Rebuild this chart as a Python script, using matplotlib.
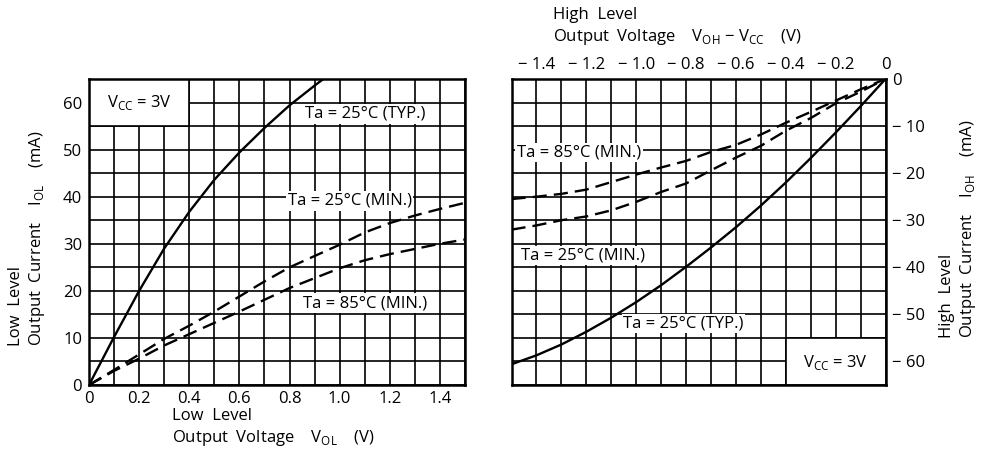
import matplotlib
matplotlib.use("Agg")
import matplotlib.pyplot as plt
from matplotlib.patches import Rectangle
from matplotlib.ticker import MultipleLocator, FixedLocator

plt.rcParams["font.family"] = ["Open Sans", "DejaVu Sans"]
plt.rcParams["font.size"] = 12
plt.rcParams["mathtext.fontset"] = "custom"
plt.rcParams["mathtext.rm"] = "Open Sans"

# ---- left chart: low level output (VOL vs IOL) ----
vol = [0, 0.05, 0.1, 0.2, 0.3, 0.4, 0.5, 0.6, 0.7, 0.8, 0.9, 1.0, 1.1, 1.2, 1.3, 1.4, 1.5]
iol_25_min = [0, 1.6, 3.2, 6.5, 9.8, 12.6, 15.6, 18.8, 22.0, 25.0, 27.4, 29.8, 32.4, 34.4, 36.0, 37.4, 38.7]
iol_85_min = [0, 1.5, 3.0, 5.6, 8.4, 10.8, 13.2, 15.6, 18.1, 20.6, 22.7, 24.8, 26.5, 27.8, 28.9, 30.0, 30.9]
vol_typ = [0, 0.1, 0.2, 0.3, 0.4, 0.5, 0.6, 0.7, 0.8, 0.9, 0.935]
iol_typ = [0, 10.2, 20.0, 29.0, 36.8, 43.6, 49.4, 54.6, 59.4, 63.6, 65.0]

# ---- right chart: high level output (VOH-VCC vs IOH) ----
voh = [-1.5, -1.4, -1.3, -1.2, -1.1, -1.0, -0.9, -0.8, -0.7, -0.6, -0.5, -0.4, -0.3, -0.2, -0.1, 0]
ioh_typ = [-60.6, -58.7, -56.4, -53.7, -50.7, -47.4, -43.8, -39.9, -35.8, -31.5, -26.9, -22.0, -16.8, -11.4, -5.8, 0]
ioh_85_min = [-25.5, -25.0, -24.4, -23.5, -21.9, -20.3, -18.8, -17.4, -15.5, -14.0, -11.8, -9.3, -7.0, -4.6, -2.2, 0]
ioh_25_min = [-32.0, -31.1, -30.0, -29.2, -27.9, -26.1, -24.0, -22.2, -19.4, -16.7, -14.2, -11.0, -8.3, -5.2, -2.7, 0]

W, H = 983, 459
fig = plt.figure(figsize=(W / 100, H / 100), dpi=100)


def px_axes(x0, y0, x1, y1):
    return fig.add_axes([x0 / W, 1 - y1 / H, (x1 - x0) / W, (y1 - y0) / H])


def px_text(x, y, s, **kw):
    fig.text(x / W, 1 - y / H, s, **kw)


def minus(v, fmt):
    s = fmt.format(abs(v))
    return s if v == 0 else "\u2212 " + s


def style_grid(ax):
    ax.xaxis.set_minor_locator(MultipleLocator(0.1))
    ax.yaxis.set_minor_locator(MultipleLocator(5))
    ax.grid(which="both", color="black", linewidth=1.2)
    ax.set_axisbelow(True)
    ax.tick_params(which="both", length=0, labelsize=12)
    for sp in ax.spines.values():
        sp.set_linewidth(1.8)


label_box = dict(boxstyle="square,pad=0.1", facecolor="white", edgecolor="none")
solid_kw = dict(color="black", linewidth=1.7, zorder=3)
dash_kw = dict(color="black", linewidth=1.7, linestyle=(0, (6, 3)), zorder=3)

# left
ax1 = px_axes(89, 79, 465, 385)
ax1.set_xlim(0, 1.5)
ax1.set_ylim(0, 65)
ax1.xaxis.set_major_locator(FixedLocator([0, 0.2, 0.4, 0.6, 0.8, 1.0, 1.2, 1.4]))
ax1.set_xticklabels(["0", "0.2", "0.4", "0.6", "0.8", "1.0", "1.2", "1.4"])
ax1.yaxis.set_major_locator(FixedLocator([0, 10, 20, 30, 40, 50, 60]))
style_grid(ax1)
ax1.tick_params(axis="x", pad=4)
ax1.tick_params(axis="y", pad=5)

ax1.plot(vol_typ, iol_typ, **solid_kw)
ax1.plot(vol, iol_25_min, **dash_kw)
ax1.plot(vol, iol_85_min, **dash_kw)

ax1.add_patch(Rectangle((0, 55), 0.4, 10, facecolor="white", edgecolor="black",
                        linewidth=1.2, zorder=1))
ax1.text(0.2, 60, r"V$_{\mathregular{CC}}$ = 3V", ha="center", va="center", zorder=5)
ax1.text(1.1, 57.6, "Ta = 25°C (TYP.)", ha="center", va="center", bbox=label_box, zorder=5)
ax1.text(1.04, 39.1, "Ta = 25°C (MIN.)", ha="center", va="center", bbox=label_box, zorder=5)
ax1.text(1.1, 17.4, "Ta = 85°C (MIN.)", ha="center", va="center", bbox=label_box, zorder=5)

px_text(16, 346, "Low  Level", rotation=90, ha="center", va="bottom")
px_text(37, 346, "Output  Current    I$_{\\mathregular{OL}}$    (mA)",
        rotation=90, ha="center", va="bottom")
px_text(172, 416, "Low  Level", ha="left", va="center")
px_text(172, 438, "Output  Voltage    V$_{\\mathregular{OL}}$    (V)", ha="left", va="center")

# right
ax2 = px_axes(511.5, 79, 885.5, 385)
ax2.set_xlim(-1.5, 0)
ax2.set_ylim(-65, 0)
xt = [-1.4, -1.2, -1.0, -0.8, -0.6, -0.4, -0.2, 0]
ax2.xaxis.set_major_locator(FixedLocator(xt))
ax2.set_xticklabels([minus(v, "{:.1f}") if v else "0" for v in xt])
yt = [-60, -50, -40, -30, -20, -10, 0]
ax2.yaxis.set_major_locator(FixedLocator(yt))
ax2.set_yticklabels([minus(v, "{:.0f}") for v in yt])
ax2.xaxis.tick_top()
ax2.yaxis.tick_right()
style_grid(ax2)
ax2.tick_params(axis="x", pad=4)
ax2.tick_params(axis="y", pad=5)

ax2.plot(voh, ioh_typ, **solid_kw)
ax2.plot(voh, ioh_85_min, **dash_kw)
ax2.plot(voh, ioh_25_min, **dash_kw)

ax2.add_patch(Rectangle((-0.4, -65), 0.4, 10, facecolor="white", edgecolor="black",
                        linewidth=1.2, zorder=1))
ax2.text(-0.2, -60.3, r"V$_{\mathregular{CC}}$ = 3V", ha="center", va="center", zorder=5)
ax2.text(-1.23, -15.6, "Ta = 85°C (MIN.)", ha="center", va="center", bbox=label_box, zorder=5)
ax2.text(-1.215, -37.5, "Ta = 25°C (MIN.)", ha="center", va="center", bbox=label_box, zorder=5)
ax2.text(-0.81, -52.0, "Ta = 25°C (TYP.)", ha="center", va="center", bbox=label_box, zorder=5)

px_text(553, 15, "High  Level", ha="left", va="center")
px_text(553, 37, "Output  Voltage    V$_{\\mathregular{OH}}$ \u2212 V$_{\\mathregular{CC}}$    (V)",
        ha="left", va="center")
px_text(947, 338, "High  Level", rotation=90, ha="center", va="bottom")
px_text(968, 338, "Output  Current    I$_{\\mathregular{OH}}$    (mA)",
        rotation=90, ha="center", va="bottom")

fig.savefig("out.png", dpi=100)
